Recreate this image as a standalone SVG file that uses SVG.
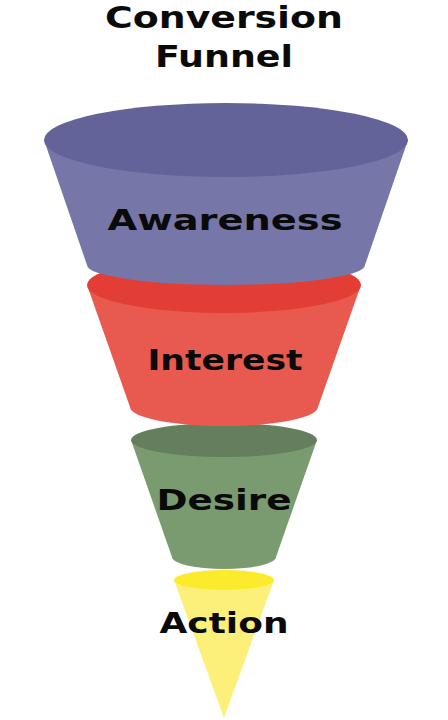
<svg xmlns="http://www.w3.org/2000/svg" width="448" height="720" viewBox="0 0 448 720">
<style>
.lbl{font-family:"DejaVu Sans","Liberation Sans",Arial,sans-serif;font-weight:bold;fill:#0a0a0a;text-anchor:middle}
</style>
<rect width="448" height="720" fill="#fff"/>
<g id="title">
<text class="lbl" x="224" y="28" font-size="31" textLength="238" lengthAdjust="spacingAndGlyphs">Conversion</text>
<text class="lbl" x="224" y="67" font-size="31" textLength="138" lengthAdjust="spacingAndGlyphs">Funnel</text>
</g>
<g id="action">
<path d="M174,580 L224,718 L274,580 Z" fill="#fdf07a"/>
<ellipse cx="224" cy="580" rx="50" ry="10" fill="#fcea2c"/>
<text class="lbl" x="224" y="633" font-size="29" textLength="129" lengthAdjust="spacingAndGlyphs">Action</text>
</g>
<g id="desire">
<path d="M131,440 L172,557 A52,12 0 0 0 276,557 L317,440 Z" fill="#7a9a70"/>
<ellipse cx="224" cy="440" rx="93" ry="17" fill="#657f5e"/>
<text class="lbl" x="224" y="510" font-size="29" textLength="135" lengthAdjust="spacingAndGlyphs">Desire</text>
</g>
<g id="interest">
<path d="M87,285 L130,407 A94,19 0 0 0 318,407 L361,285 Z" fill="#e85a50"/>
<ellipse cx="224" cy="285" rx="137" ry="28" fill="#e33e35"/>
<text class="lbl" x="225" y="370" font-size="29" textLength="155" lengthAdjust="spacingAndGlyphs">Interest</text>
</g>
<g id="awareness">
<path d="M44,140 L87,265 A139,20 0 0 0 365,265 L408,140 Z" fill="#7676a8"/>
<ellipse cx="226" cy="140" rx="182" ry="37" fill="#63639a"/>
<text class="lbl" x="225" y="230" font-size="29" textLength="235" lengthAdjust="spacingAndGlyphs">Awareness</text>
</g>
<g id="connectors"/>
</svg>
